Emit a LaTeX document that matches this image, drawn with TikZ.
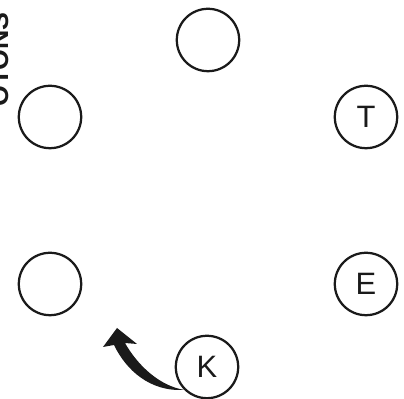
\documentclass[tikz,border=0pt]{standalone}
\usepackage{fontspec}
\setmainfont{Liberation Sans}
\usepackage{xcolor}
\definecolor{inkBlack}{HTML}{1A1A1A}
\usetikzlibrary{positioning}

\begin{document}
\begin{tikzpicture}[
    x=0.025cm, y=0.025cm,
    every node/.style={font=\fontsize{22}{22}\selectfont, text=inkBlack},
    slot/.style={draw=inkBlack, circle, line width=1.6pt,
                 minimum size=1.56cm, inner sep=0pt},
    side/.style={font=\bfseries\fontsize{19}{19}\selectfont, rotate=90,
                 anchor=base west, inner sep=0pt}
]
\useasboundingbox (0,0) rectangle (404,399);
% Side label, cut off at the left edge
\begin{scope}
\clip (0,0) rectangle (404,399);
\node[side] (tag) at (8,292) {OTONS};
\end{scope}
% Six slots round the ring
\node[slot] (top) at (208,359) {};
\node[slot] (lup) at (50,282)  {};
\node[slot] (rup) at (366,282) {T};
\node[slot] (llo) at (50,115)  {};
\node[slot] (rlo) at (366,115) {E};
\node[slot] (bot) at (207,32)  {K};
% Curved arrow leaving K
\fill[inkBlack] (bot.225) .. controls (150,7) and (126,29) .. (114,54)
    -- (103,52) -- (117,71) -- (137,55) -- (125,56)
    .. controls (138,33) and (160,13) .. (bot.225) -- cycle;
\end{tikzpicture}
\end{document}
